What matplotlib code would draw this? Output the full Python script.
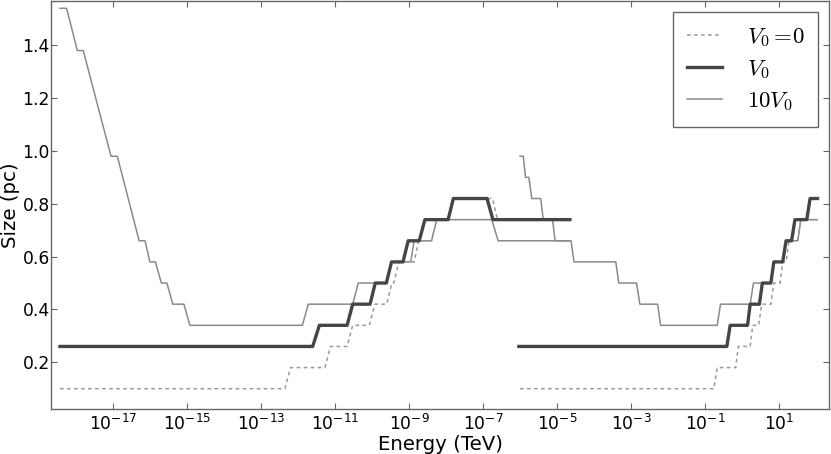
import matplotlib
matplotlib.use("Agg")
import matplotlib.pyplot as plt
import numpy as np
from matplotlib.font_manager import FontProperties
from matplotlib.ticker import FixedLocator, NullLocator, LogFormatterSciNotation

# ---- data (log10 of energy in TeV, size in pc) ----
# V0 = 0 (dashed)
zero1_logE = [-18.43, -12.35, -12.20, -11.27, -11.12, -10.67, -10.52, -10.07, -9.92, -9.60,
              -9.46, -9.41, -9.27, -8.86, -8.74, -8.39, -8.25, -7.94, -7.80, -6.74, -6.61, -4.65]
zero1_size = [0.10, 0.10, 0.18, 0.18, 0.26, 0.26, 0.34, 0.34, 0.42, 0.42,
              0.50, 0.50, 0.58, 0.58, 0.66, 0.66, 0.74, 0.74, 0.82, 0.82, 0.74, 0.74]
zero2_logE = [-6.00, -0.76, -0.67, -0.17, -0.10, 0.22, 0.29, 0.45, 0.53, 0.78,
              0.86, 1.03, 1.10, 1.19, 1.27, 1.50, 1.59, 2.03]
zero2_size = [0.10, 0.10, 0.18, 0.18, 0.26, 0.26, 0.34, 0.34, 0.42, 0.42,
              0.50, 0.50, 0.58, 0.58, 0.66, 0.66, 0.74, 0.74]

# V0 (thick)
v01_logE = [-18.43, -11.60, -11.42, -10.67, -10.52, -10.05, -9.91, -9.61, -9.47, -9.16,
            -9.02, -8.72, -8.57, -7.94, -7.80, -6.89, -6.73, -4.65]
v01_size = [0.26, 0.26, 0.34, 0.34, 0.42, 0.42, 0.50, 0.50, 0.58, 0.58,
            0.66, 0.66, 0.74, 0.74, 0.82, 0.82, 0.74, 0.74]
v02_logE = [-6.03, -0.41, -0.32, 0.15, 0.22, 0.47, 0.55, 0.78, 0.86, 1.10,
            1.19, 1.34, 1.43, 1.75, 1.84, 2.04]
v02_size = [0.26, 0.26, 0.34, 0.34, 0.42, 0.42, 0.50, 0.50, 0.58, 0.58,
            0.66, 0.66, 0.74, 0.74, 0.82, 0.82]

# 10 V0 (thin)
ten1_logE = [-18.43, -18.25, -17.96, -17.80, -17.05, -16.88, -16.29, -16.13, -16.00, -15.85,
             -15.69, -15.54, -15.38, -15.08, -14.92, -11.88, -11.72, -10.52, -10.37, -9.62,
             -9.47, -8.95, -8.86, -8.39, -8.25, -6.76, -6.59, -4.65]
ten1_size = [1.54, 1.54, 1.38, 1.38, 0.98, 0.98, 0.66, 0.66, 0.58, 0.58,
             0.50, 0.50, 0.42, 0.42, 0.34, 0.34, 0.42, 0.42, 0.50, 0.50,
             0.58, 0.58, 0.66, 0.66, 0.74, 0.74, 0.66, 0.66]
ten2_logE = [-6.00, -5.91, -5.85, -5.76, -5.68, -5.44, -5.37, -5.12, -5.05, -4.62,
             -4.54, -3.41, -3.33, -2.85, -2.76, -2.28, -2.20, -0.67, -0.58, 0.22,
             0.31, 0.78, 0.86, 1.11, 1.20, 1.51, 1.59, 2.03]
ten2_size = [0.98, 0.98, 0.90, 0.90, 0.82, 0.82, 0.74, 0.74, 0.66, 0.66,
             0.58, 0.58, 0.50, 0.50, 0.42, 0.42, 0.34, 0.34, 0.42, 0.42,
             0.50, 0.50, 0.58, 0.58, 0.66, 0.66, 0.74, 0.74]

labels = [r"$V_0 =\!0$", r"$V_0$", r"$10V_0$"]
xtick_exps = [-17, -15, -13, -11, -9, -7, -5, -3, -1, 1]
yticks = [0.2, 0.4, 0.6, 0.8, 1.0, 1.2, 1.4]

# ---- figure ----
fig = plt.figure(figsize=(8.31, 4.54), dpi=100)
ax = fig.add_axes([0.061, 0.099, 0.937, 0.899])

c_zero, c_v0, c_ten = "#999999", "#454545", "#8a8a8a"
dash = (0, (2.4, 2.2))

ax.plot(10 ** np.array(ten1_logE), ten1_size, color=c_ten, lw=1.1, zorder=2, label=labels[2])
ax.plot(10 ** np.array(ten2_logE), ten2_size, color=c_ten, lw=1.1, zorder=2)
ax.plot(10 ** np.array(zero1_logE), zero1_size, color=c_zero, lw=1.1, ls=dash, zorder=3, label=labels[0])
ax.plot(10 ** np.array(zero2_logE), zero2_size, color=c_zero, lw=1.1, ls=dash, zorder=3)
ax.plot(10 ** np.array(v01_logE), v01_size, color=c_v0, lw=2.4, zorder=4, label=labels[1])
ax.plot(10 ** np.array(v02_logE), v02_size, color=c_v0, lw=2.4, zorder=4)

ax.set_xscale("log")
ax.set_xlim(10 ** -18.68, 10 ** 2.36)
ax.set_ylim(0.023, 1.568)

ax.xaxis.set_major_locator(FixedLocator([10.0 ** e for e in xtick_exps]))
ax.xaxis.set_major_formatter(LogFormatterSciNotation())
ax.xaxis.set_minor_locator(NullLocator())
ax.set_yticks(yticks)
ax.set_yticklabels([f"{v:.1f}" for v in yticks])

spine_c = "#666666"
for s in ax.spines.values():
    s.set_color(spine_c)
    s.set_linewidth(1.0)
ax.tick_params(which="both", direction="in", length=4, width=0.8, color=spine_c,
               top=True, right=True, labelsize=12.3)
ax.tick_params(axis="x", pad=3.5)
ax.tick_params(axis="y", pad=0.5)

ax.set_xlabel("Energy (TeV)", fontsize=14.2, va="bottom")
ax.xaxis.set_label_coords(0.5, -0.1105)
ax.set_ylabel("Size (pc)", fontsize=14.2, va="center")
ax.yaxis.set_label_coords(-0.0515, 0.5)

handles, labs = ax.get_legend_handles_labels()
order = [labs.index(l) for l in labels]
leg = ax.legend([handles[i] for i in order], [labs[i] for i in order],
                loc="upper right", bbox_to_anchor=(818.3 / 831, 1 - 11.7 / 454),
                bbox_transform=fig.transFigure, borderaxespad=0,
                prop=FontProperties(size=16.5, math_fontfamily="cm"),
                handlelength=1.5, handletextpad=1.1, labelspacing=0.35,
                borderpad=0.6, fancybox=False, framealpha=1)
leg.get_frame().set_edgecolor(spine_c)
leg.get_frame().set_linewidth(1.0)

fig.savefig("out.png", dpi=100)
